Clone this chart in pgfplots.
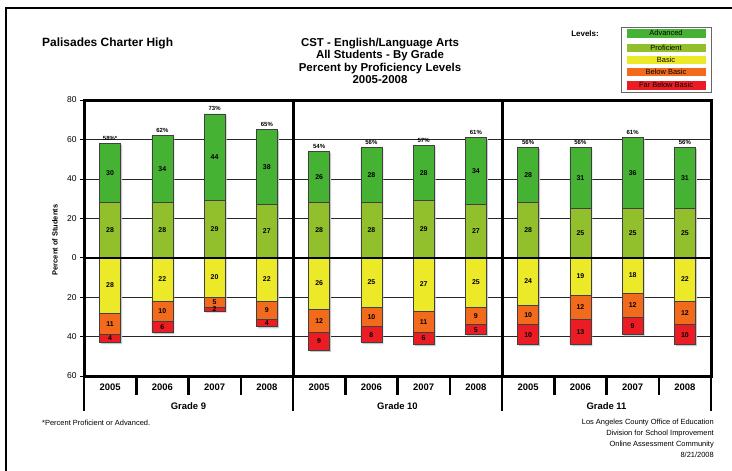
\documentclass[border=0pt]{standalone}
\usepackage{fontspec}
\setmainfont{Liberation Sans}
\usepackage{pgfplots}
\usepackage{pgfplotstable}
\pgfplotsset{compat=1.18}

\definecolor{cadv}{RGB}{70,178,52}
\definecolor{cprof}{RGB}{146,192,44}
\definecolor{cbasic}{RGB}{236,234,40}
\definecolor{cbb}{RGB}{242,106,28}
\definecolor{cfbb}{RGB}{236,28,36}

\pgfplotstableread{
x adv prof basic bb fbb lab
0 30 28 28 11 4 58\%*
1 34 28 22 10 6 62\%
2 44 29 20 5 2 73\%
3 38 27 22 9 4 65\%
4 26 28 26 12 9 54\%
5 28 28 25 10 8 56\%
6 28 29 27 11 6 57\%
7 34 27 25 9 5 61\%
8 28 28 24 10 10 56\%
9 31 25 19 12 13 56\%
10 36 25 18 12 9 61\%
11 31 25 22 12 10 56\%
}\data

\pgfplotsset{
  base/.style={
    at={(84bp,-376bp)}, anchor=south west, scale only axis,
    width=627bp, height=276bp,
    xmin=-0.5, xmax=11.5, ymin=-60, ymax=80,
    /pgf/number format/assume math mode=true,
  },
  seg/.style={draw=black!75, line width=0.5bp},
  vlab/.style={draw=none, nodes near coords, point meta=explicit,
    nodes near coords style={font=\bfseries\fontsize{7}{8}\selectfont, anchor=center, inner sep=0pt}},
}

\begin{document}
\begin{tikzpicture}
\useasboundingbox (0,0) rectangle (732bp,-471bp);
\fill[white] (0,0) rectangle (732bp,-471bp);
\draw[line width=1.5bp] (6bp,-471bp) -- (6bp,-8bp) -- (732bp,-8bp);

% base axis: frame, grid, ticks
\begin{axis}[base,
  clip=false,
  axis line style={line width=3bp},
  ytick={-60,-40,...,80}, yticklabels={60,40,20,0,20,40,60,80},
  ytick pos=left,
  ymajorgrids, grid style={line width=0.6bp, black!85},
  tick align=outside, major tick length=4bp,
  y tick style={black, line width=0.6bp},
  yticklabel style={font=\fontsize{8.5}{10}\selectfont},
  xtick={0,...,11},
  xticklabels={2005,2006,2007,2008,2005,2006,2007,2008,2005,2006,2007,2008},
  x tick style={draw=none},
  xticklabel style={font=\bfseries\fontsize{9.5}{10}\selectfont},
]
\addplot[ybar, bar width=21bp, bar shift=1.6bp, fill=black!22, draw=none, transform canvas={yshift=-1.6bp}]
  table[x=x, y expr=\thisrow{adv}+\thisrow{prof}] {\data};
\addplot[ybar, bar width=21bp, bar shift=1.6bp, fill=black!22, draw=none, transform canvas={yshift=-1.6bp}]
  table[x=x, y expr=-\thisrow{basic}-\thisrow{bb}-\thisrow{fbb}] {\data};
\draw[line width=3bp] (axis cs:3.5,-60) -- (axis cs:3.5,80);
\draw[line width=3bp] (axis cs:7.5,-60) -- (axis cs:7.5,80);
\pgfplotsinvokeforeach{0.5,1.5,2.5,4.5,5.5,6.5,8.5,9.5,10.5}{
  \draw[line width=2.5bp] (axis cs:#1,-60) -- ([yshift=-19bp]axis cs:#1,-60);
}
\pgfplotsinvokeforeach{-0.5,3.5,7.5,11.5}{
  \draw[line width=2.5bp] (axis cs:#1,-60) -- ([yshift=-35bp]axis cs:#1,-60);
}
\node[font=\bfseries\fontsize{9.5}{10}\selectfont, yshift=-30bp] at (axis cs:1.5,-60) {Grade 9};
\node[font=\bfseries\fontsize{9.5}{10}\selectfont, yshift=-30bp] at (axis cs:5.5,-60) {Grade 10};
\node[font=\bfseries\fontsize{9.5}{10}\selectfont, yshift=-30bp] at (axis cs:9.5,-60) {Grade 11};
\end{axis}

% positive stack
\begin{axis}[base, hide axis, ybar stacked, bar width=21bp]
\addplot[seg, fill=cprof] table[x=x, y=prof] {\data};
\addplot[seg, fill=cadv] table[x=x, y=adv] {\data};
\end{axis}

% negative stack
\begin{axis}[base, hide axis, ybar stacked, bar width=21bp]
\addplot[seg, fill=cbasic] table[x=x, y expr=-\thisrow{basic}] {\data};
\addplot[seg, fill=cbb] table[x=x, y expr=-\thisrow{bb}] {\data};
\addplot[seg, fill=cfbb] table[x=x, y expr=-\thisrow{fbb}] {\data};
\end{axis}

% labels
\begin{axis}[base, hide axis, clip=false]
\draw[line width=2bp] (axis cs:-0.5,0) -- (axis cs:11.5,0);
\addplot[vlab] table[x=x, y expr=\thisrow{prof}/2, meta=prof] {\data};
\addplot[vlab] table[x=x, y expr=\thisrow{prof}+\thisrow{adv}/2, meta=adv] {\data};
\addplot[vlab] table[x=x, y expr=-\thisrow{basic}/2, meta=basic] {\data};
\addplot[vlab] table[x=x, y expr=-\thisrow{basic}-\thisrow{bb}/2, meta=bb] {\data};
\addplot[vlab] table[x=x, y expr=-\thisrow{basic}-\thisrow{bb}-\thisrow{fbb}/2, meta=fbb] {\data};
\addplot[draw=none, nodes near coords, point meta=explicit symbolic,
  nodes near coords style={font=\bfseries\fontsize{6}{7}\selectfont, anchor=south, inner sep=0pt, yshift=3bp}]
  table[x=x, y expr=\thisrow{prof}+\thisrow{adv}, meta=lab] {\data};
\end{axis}

% y label
\node[rotate=90, font=\bfseries\fontsize{7.5}{9}\selectfont] at (55bp,-240bp) {Percent of Students};

% titles
\node[anchor=west, inner sep=0pt, font=\bfseries\fontsize{12}{13}\selectfont] at (42bp,-43bp) {Palisades Charter High};
\node[align=center, inner sep=0pt, font=\bfseries\fontsize{11.5}{12.3}\selectfont, anchor=north] at (380bp,-38bp)
  {CST - English/Language Arts\\All Students - By Grade\\Percent by Proficiency Levels\\2005-2008};

% legend
\node[font=\bfseries\fontsize{8}{9}\selectfont] at (585bp,-34bp) {Levels:};
\draw[black!60, line width=0.8bp] (621bp,-27bp) rectangle (711bp,-92bp);
\begin{scope}[every node/.style={font=\fontsize{7.5}{8}\selectfont, minimum width=80bp, minimum height=9.5bp, inner sep=0pt, anchor=center, draw=white, line width=0.5bp}]
\node[fill=cadv] at (666bp,-33bp) {Advanced};
\node[fill=cprof] at (666bp,-47.8bp) {Proficient};
\node[fill=cbasic] at (666bp,-59.7bp) {Basic};
\node[fill=cbb] at (666bp,-71.8bp) {Below Basic};
\node[fill=cfbb] at (666bp,-85bp) {Far Below Basic};
\end{scope}

% footer
\node[anchor=west, inner sep=0pt, font=\fontsize{7.5}{9}\selectfont] at (42bp,-423bp) {*Percent Proficient or Advanced.};
\node[anchor=north east, align=right, font=\fontsize{7.5}{11}\selectfont, inner sep=0pt] at (714bp,-419bp)
  {Los Angeles County Office of Education\\Division for School Improvement\\Online Assessment Community\\8/21/2008};
\end{tikzpicture}
\end{document}
